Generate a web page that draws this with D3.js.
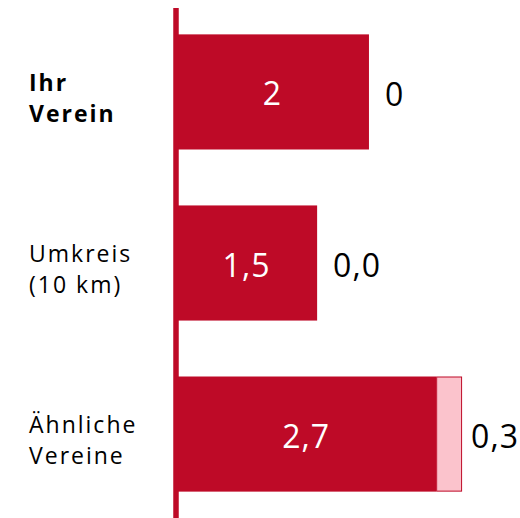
<!DOCTYPE html>
<html>
<head>
<meta charset="utf-8">
<script src="https://cdn.jsdelivr.net/npm/d3@7"></script>
<style>
  body { margin: 0; background: #fff; }
  svg { display: block; }
</style>
</head>
<body>
<div class="chart"></div>
<script>
// data
const categories = ["Ihr Verein", "Umkreis (10 km)", "Ähnliche Vereine"];
const categoryLines = [["Ihr", "Verein"], ["Umkreis", "(10 km)"], ["Ähnliche", "Vereine"]];
const mainValues = [2.01, 1.47, 2.71];
const extraValues = [0, 0, 0.27];
const mainLabels = ["2", "1,5", "2,7"];
const extraLabels = ["0", "0,0", "0,3"];

const width = 520, height = 518;
const red = "#be0a27";
const pink = "#fbc3cc";

const svg = d3.select(".chart")
    .append("svg")
    .attr("width", width)
    .attr("height", height);

const xScale = d3.scaleLinear()
    .domain([0, 3.5])
    .range([176, 176 + 3.5 * 96]);

const yScale = d3.scaleBand()
    .domain(categories)
    .range([7, 519])
    .paddingInner(0.327)
    .paddingOuter(0.16);

const data = categories.map((c, i) => ({
    cat: c, lines: categoryLines[i], main: mainValues[i], extra: extraValues[i],
    mainLabel: mainLabels[i], extraLabel: extraLabels[i], bold: i === 0
}));

// main bars
svg.selectAll("rect.main")
    .data(data)
    .join("rect")
    .attr("class", "main")
    .attr("x", xScale(0))
    .attr("y", d => yScale(d.cat))
    .attr("width", d => xScale(d.main) - xScale(0))
    .attr("height", yScale.bandwidth())
    .attr("fill", red);

// extra (light) bars
svg.selectAll("rect.extra")
    .data(data.filter(d => d.extra > 0))
    .join("rect")
    .attr("class", "extra")
    .attr("x", d => xScale(d.main) + 0.5)
    .attr("y", d => yScale(d.cat) + 0.5)
    .attr("width", d => xScale(d.main + d.extra) - xScale(d.main) - 1)
    .attr("height", yScale.bandwidth() - 1)
    .attr("fill", pink)
    .attr("stroke", red)
    .attr("stroke-width", 1);

// axis line
svg.append("line")
    .attr("x1", xScale(0)).attr("x2", xScale(0))
    .attr("y1", 8).attr("y2", height)
    .attr("stroke", red)
    .attr("stroke-width", 5.5);

// value labels inside bars
svg.selectAll("text.inner")
    .data(data)
    .join("text")
    .attr("class", "inner")
    .attr("x", d => (xScale(0) + xScale(d.main)) / 2)
    .attr("y", d => yScale(d.cat) + yScale.bandwidth() / 2 + 13.5)
    .attr("text-anchor", "middle")
    .attr("font-family", "'Open Sans', sans-serif")
    .attr("font-size", 32)
    .attr("letter-spacing", 1)
    .attr("fill", "#fff")
    .text(d => d.mainLabel);

// extra labels right of bars
svg.selectAll("text.outer")
    .data(data)
    .join("text")
    .attr("class", "outer")
    .attr("x", d => xScale(d.main + d.extra) + (d.extra > 0 ? 9 : 16))
    .attr("y", d => yScale(d.cat) + yScale.bandwidth() / 2 + 14)
    .attr("font-family", "'Open Sans', sans-serif")
    .attr("font-size", 32)
    .attr("letter-spacing", 1)
    .attr("fill", "#000")
    .text(d => d.extraLabel);

// category labels
const cat = svg.selectAll("text.cat")
    .data(data)
    .join("text")
    .attr("class", "cat")
    .attr("font-family", "'Open Sans', sans-serif")
    .attr("font-size", 23)
    .attr("letter-spacing", 2)
    .attr("font-weight", d => d.bold ? "bold" : "normal")
    .attr("fill", "#000");

cat.selectAll("tspan")
    .data(d => d.lines.map((l, j) => ({ l, j, d })))
    .join("tspan")
    .attr("x", 29)
    .attr("y", t => yScale(t.d.cat) + yScale.bandwidth() / 2 - 1 + t.j * 31)
    .text(t => t.l);
</script>
</body>
</html>
